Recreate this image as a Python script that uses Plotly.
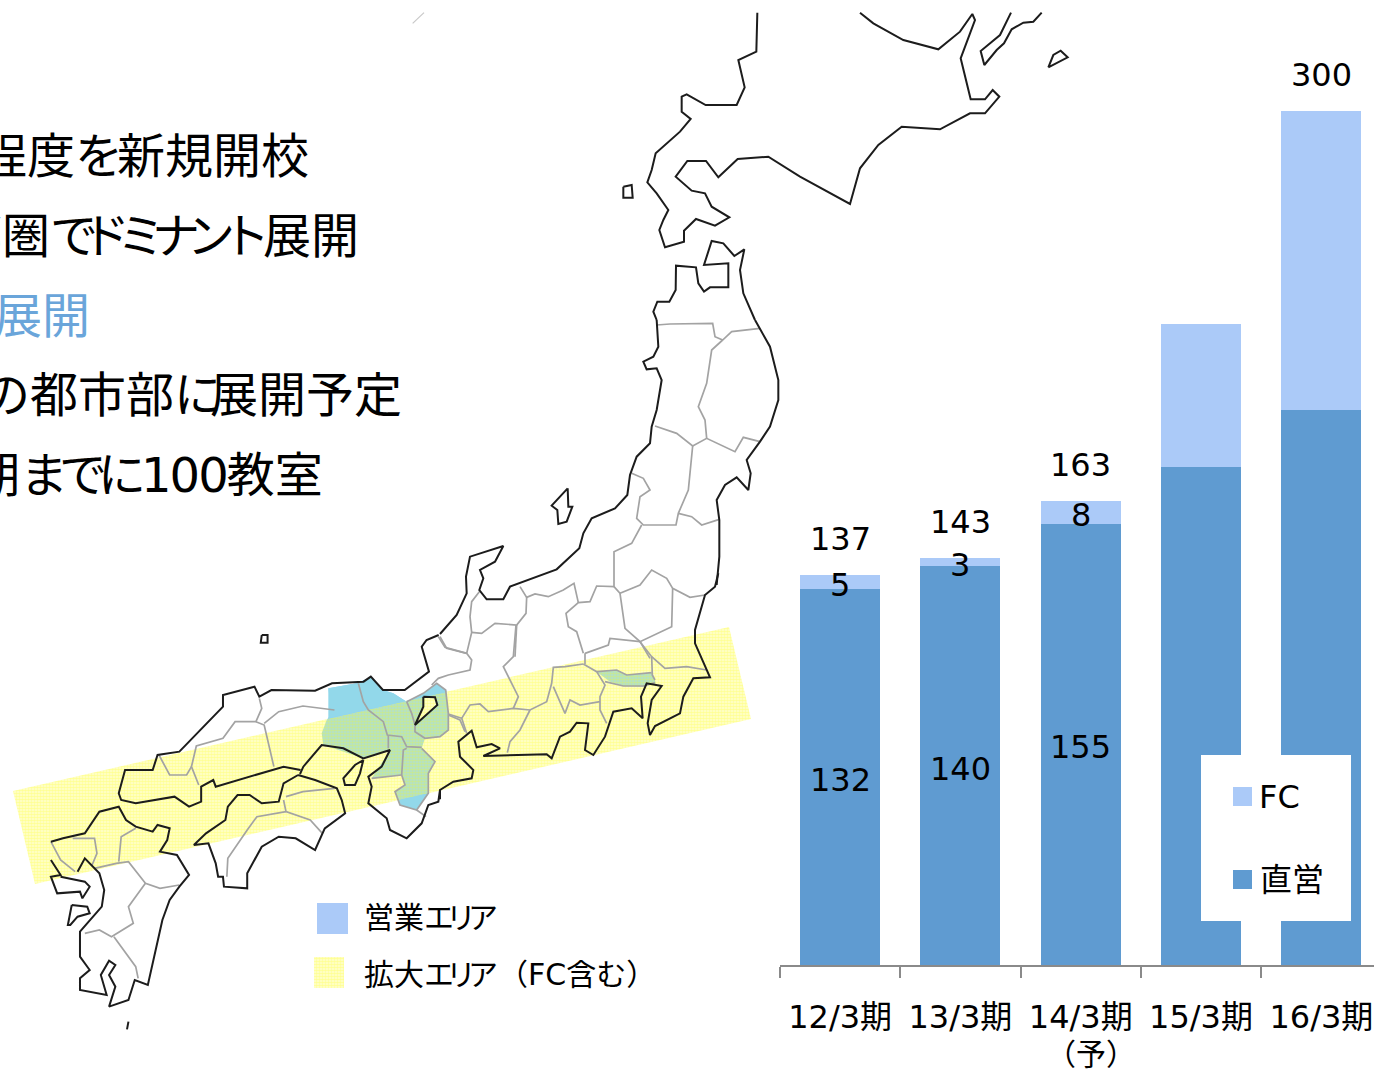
import plotly.graph_objects as go

# ---------- chart data ----------
periods = ["12/3期", "13/3期", "14/3期", "15/3期", "16/3期"]
direct = [132, 140, 155, 175, 195]
fc = [5, 3, 8, 50, 105]
direct_labels = ["132", "140", "155", None, None]
fc_labels = ["5", "3", "8", None, None]
total_labels = ["137", "143", "163", None, "300"]
BAR_DARK = "#5F9BD1"
BAR_LIGHT = "#ABCAF8"
FONT = "DejaVu Sans, Noto Sans CJK JP, sans-serif"
CJK = "Noto Sans CJK JP, sans-serif"
COAST = "#1c1c1c"
BORDER = "#a3a3a3"

# ---------- map outlines ----------
# each list carries its own crop origin/scale: (ox, oy, sx, sy)
Z1 = (0, 620, 2.063, 3)
Z2 = (400, 0, 3, 3)
Z3 = (440, 320, 3, 3)
Z6 = (640, 0, 3, 3)
Z7 = (420, 560, 3, 3)
Z8 = (300, 670, 3, 3)

def P(points, z):
    return [(z[0] + x / z[2], z[1] + y / z[3]) for x, y in points]

hokkaido = [(352,38),(349,155),(295,180),(305,225),(314,262),(290,315),(197,315),(140,283),(125,290),(125,335),(152,357),(120,395),(80,432),(47,460),(35,510),(22,547),(50,580),(85,630),(70,660),(58,690),(75,742),(132,725),(132,692),(168,657),(225,677),(268,652),(215,620),(195,580),(155,572),(107,530),(142,483),(198,483),(235,532),(293,477),(385,470),(480,530),(630,612),(660,505),(715,435),(785,380),(900,388),(990,340),(1035,340),(1078,290),(1058,270),(1035,298),(992,298),(962,175),(1005,60),(997,42),(960,95),(895,148),(790,120),(700,70),(660,38)]
kunashiri = [(1113,38),(1080,105),(1022,153),(1033,195),(1070,150),(1092,130),(1115,88),(1150,68),(1180,65),(1205,38)]
etorofu_tip = [(1225,202),(1240,165),(1262,152),(1283,172),(1225,202)]
okushiri = [(670,560),(695,555),(698,593),(670,593),(670,560)]
top_stub = [(72,38),(38,70)]
mutsu = [(770,960),(760,935),(772,905),(808,905),(827,870),(828,797),(888,802),(895,850),(912,875),(930,862),(985,862),(985,790),(912,795),(935,723),(970,730),(1003,768),(1033,748),(1020,810),(1030,880),(1060,950),(1065,960)]
tohoku_west = [(650,0),(655,80),(640,110),(610,125),(620,148),(650,145),(665,180),(650,270),(635,320),(630,370),(590,410),(570,465),(562,525),(525,565),(455,595),(430,640),(418,685),(350,748),(210,800),(190,838),(140,838),(118,810),(130,775),(120,750),(165,725),(190,678),(90,710),(78,770),(80,820),(50,885),(0,942)]
tohoku_east = [(945,0),(990,80),(1015,180),(1015,240),(990,320),(960,365),(920,420),(932,460),(925,510),(890,472),(855,495),(830,540),(838,600),(838,710),(830,795)]
kanto_coast = [(895,40),(885,80),(855,105),(825,210),(825,250),(860,330),(870,352),(820,355),(790,410),(780,460),(705,498),(690,525),(683,490),(695,420),(725,378),(680,370),(663,410),(668,475),(635,445),(580,455),(555,530),(520,585),(495,570),(505,490),(470,488),(450,515),(420,530),(395,595),(380,583),(190,588),(240,565),(215,552),(170,562),(155,512),(115,545),(120,590),(160,630),(155,655),(100,665),(60,690),(60,718)]
kii_coast = [(420,360),(415,395),(385,405),(365,460),(320,505),(270,480),(260,445),(205,400),(215,350),(205,320),(245,290),(270,240),(190,265),(130,235),(65,225),(10,290),(0,312)]
chugoku_coast = [(620,450),(585,440),(445,500),(440,480),(415,500),(415,545),(390,560),(360,530),(280,550),(250,540),(245,520),(258,450),(315,450),(325,405),(370,395),(460,260),(460,225),(525,200),(535,230),(560,210),(650,212),(685,190),(750,185),(765,170),(790,210),(835,210),(885,155),(870,80),(880,60),(905,45)]
awaji = [(190,270),(180,310),(165,345),(135,345),(130,325),(165,285),(190,270)]
biwa = [(370,80),(405,82),(412,105),(345,165),(370,110),(370,80)]
shikoku = [(615,465),(585,490),(575,545),(540,550),(515,525),(490,525),(470,560),(465,600),(425,640),(400,675),(430,670),(445,730),(450,770),(460,770),(462,800),(510,805),(510,760),(525,720),(540,680),(575,650),(610,655),(650,690),(670,625),(712,580),(705,540),(695,505),(650,480),(615,465)]
kyushu = [(105,665),(130,655),(175,640),(205,575),(245,560),(260,600),(280,620),(315,635),(325,615),(350,625),(345,660),(330,695),(365,705),(390,765),(370,800),(350,840),(335,900),(320,1000),(305,1095),(278,1080),(265,1140),(225,1160),(238,1100),(225,1065),(238,1035),(225,1022),(208,1065),(220,1125),(165,1110),(165,1075),(185,1050),(165,1010),(165,935),(210,860),(215,810),(205,760),(175,715),(160,755)]
nagasaki = [(105,720),(125,765),(105,770),(118,820),(165,815),(170,835),(185,800),(175,785),(125,770)]
amakusa = [(148,855),(180,860),(185,880),(160,890),(145,915),(140,915),(148,855)]
oki = [(540,45),(552,45),(552,68),(538,68),(540,45)]
tanega = [(265,1205),(262,1228)]
sado = [(383,505),(385,560),(397,560),(380,605),(355,612),(352,570),(335,557),(383,505)]

borders_z3 = [
    [(650,15),(690,12),(818,10),(825,50),(848,60),(875,35),(960,25)],
    [(848,60),(815,90),(800,190),(775,260),(795,300),(800,355)],
    [(645,318),(710,340),(758,378),(800,355),(885,395),(910,352),(960,365)],
    [(758,378),(752,450),(745,510),(715,580),(708,615),(610,615),(590,595),(600,530),(630,510),(610,475),(575,460)],
    [(715,580),(755,590),(785,615),(838,598)],
    [(605,615),(575,670),(522,695),(522,800),(470,798),(450,845),(415,848),(378,880),(385,920),(410,935),(430,1000)],
    [(522,800),(540,820),(600,795),(635,750),(680,775),(698,805),(750,832),(795,825)],
    [(540,820),(555,925),(600,965),(630,1015)],
    [(698,805),(695,920),(600,965),(510,955),(505,975),(435,1000)],
    [(240,800),(260,832),(285,822),(325,830),(370,810),(402,790),(415,848)],
    [(260,832),(258,880),(230,915),(165,910),(125,940),(95,937)],
    [(118,815),(95,845),(90,890),(95,937),(80,1000)],
    [(230,915),(225,1010)],
    [(0,950),(20,985),(80,1000)],
]
borders_z7 = [
    [(55,230),(75,262),(140,280),(155,300),(150,330),(85,345),(55,355),(35,375)],
    [(288,195),(280,290),(250,320),(295,410),(280,445)],
    [(490,312),(435,320),(400,322),(395,370),(380,425),(330,450),(280,445),(205,455),(180,432),(150,435),(125,475),(85,462)],
    [(330,450),(300,510),(270,545),(262,578)],
    [(490,312),(530,335),(555,375),(540,410),(540,450),(560,490)],
    [(400,380),(435,460),(450,420),(480,435),(540,425)],
    [(495,312),(495,280)],
    [(660,245),(680,270),(695,290),(735,325),(800,320),(860,330)],
    [(695,290),(697,345),(705,360)],
    [(530,335),(590,330),(620,345),(695,338)],
    [(555,365),(610,378),(670,378),(705,368)],
    [(125,475),(140,520)],
]
borders_z8 = [
    [(175,40),(190,95),(205,120),(250,155),(262,195),(305,200),(320,230),(365,232)],
    [(265,195),(265,235)],
    [(320,235),(310,240),(305,315)],
    [(320,95),(335,130),(345,165),(345,185),(375,205),(420,200),(445,180),(445,130),(437,60),(410,40),(370,70),(320,95)],
    [(445,135),(480,150),(495,185)],
    [(350,420),(378,440)],
    [(305,315),(215,325)],
    [(365,235),(405,275),(385,310),(385,370),(350,420),(300,405),(285,365),(315,345),(305,315)],
]
borders_z1 = [
    [(535,235),(540,265),(528,305),(485,305),(460,355),(405,378),(395,440),(410,495)],
    [(528,305),(545,315),(565,440)],
    [(328,405),(350,465),(385,465),(395,440)],
    [(690,270),(625,258),(575,275),(545,310)],
    [(585,540),(590,575),(640,600),(665,640)],
    [(590,530),(625,515),(690,505)],
    [(590,575),(530,590),(510,630),(470,715),(468,770)],
    [(105,665),(125,720),(155,755)],
    [(150,655),(195,655),(200,700),(190,735)],
    [(280,625),(250,650),(245,725)],
    [(195,745),(240,730),(265,725),(290,770),(300,790),(330,805),(370,795)],
    [(300,790),(265,860),(275,910),(230,950),(205,930),(175,940)],
    [(235,950),(280,1040),(285,1075)],
]
kansai_area = [(85,55),(170,40),(215,20),(248,60),(280,70),(320,95),(370,70),(410,40),(437,60),(445,130),(445,180),(420,200),(375,205),(365,235),(405,275),(385,310),(385,370),(350,420),(300,405),(285,365),(315,345),(305,315),(215,325),(270,240),(190,265),(70,225),(65,190),(80,150),(95,130),(85,55)]
kansai_north = [(85,55),(170,40),(215,20),(248,60),(280,70),(320,95),(370,70),(410,40),(437,60),(440,66),(85,145),(85,55)]
kansai_south = [(294,391),(380,371),(350,420),(300,405),(294,391)]
tokyo_area = [(530,335),(590,330),(620,345),(695,338),(708,370),(670,380),(610,378),(570,365),(530,335)]
band = [(13,791),(729,627),(751,719),(35,884),(13,791)]
legend_blue = [(317,903),(348,903),(348,934),(317,934),(317,903)]
legend_yellow = [(314,957),(344,957),(344,988),(314,988),(314,957)]

AREA_BLUE = "#92D8EA"
AREA_UNDER = "#8AD0FF"
PATTERN = dict(shape=".", size=3, solidity=0.62, fgcolor="rgba(255,255,0,0.62)",
               bgcolor="rgba(255,255,120,0.30)", fillmode="overlay")

fig = go.Figure()

# ---------- bars ----------
fig.add_bar(x=periods, y=direct, name="直営", marker_color=BAR_DARK, width=0.665,
            marker_line_width=0, xaxis="x", yaxis="y", hoverinfo="skip")
fig.add_bar(x=periods, y=fc, name="FC", marker_color=BAR_LIGHT, width=0.665,
            marker_line_width=0, xaxis="x", yaxis="y", hoverinfo="skip")

# ---------- map ----------
def poly(pts, **kw):
    fig.add_scatter(x=[p[0] for p in pts], y=[p[1] for p in pts], xaxis="x2", yaxis="y2",
                    mode="lines", hoverinfo="skip", showlegend=False, **kw)

def area(pts, color):
    poly(pts, fill="toself", fillcolor=color, line=dict(width=0))

def hatched(pts):
    poly(pts, fill="toself", fillpattern=PATTERN, fillcolor="rgba(0,0,0,0)", line=dict(width=0))

area(P(kansai_area, Z8), AREA_UNDER)
area(P(tokyo_area, Z7), AREA_UNDER)
area(P(biwa, Z8), "#FFFFFF")
hatched(band)
area(P(kansai_north, Z8), AREA_BLUE)
area(P(kansai_south, Z8), AREA_BLUE)

for group, z in ((borders_z3, Z3), (borders_z7, Z7), (borders_z8, Z8), (borders_z1, Z1)):
    for b in group:
        poly(P(b, z), line=dict(color=BORDER, width=1.7))

coast_parts = [
    P(hokkaido, Z6), P(kunashiri, Z6), P(etorofu_tip, Z6), P(okushiri, Z2),
    P(mutsu, Z2), P(tohoku_west, Z3), P(tohoku_east, Z3),
    P(kanto_coast, Z7), P(kii_coast, Z8), P(chugoku_coast, Z1),
    P(awaji, Z8), P(biwa, Z8), P(shikoku, Z1), P(kyushu, Z1), P(nagasaki, Z1),
    P(amakusa, Z1), P(oki, Z1), P(tanega, Z1), P(sado, Z3),
]
for part in coast_parts:
    poly(part, line=dict(color=COAST, width=2))
poly(P(top_stub, Z2), line=dict(color="#c8c8c8", width=1.2))

# map legend patches
area(legend_blue, BAR_LIGHT)
hatched(legend_yellow)

annotations = []
def note(x, y, text, size=30, color="black", anchor="left", family=CJK):
    annotations.append(dict(xref="paper", yref="paper", x=x / 1374, y=1 - y / 1070, text=text,
                            showarrow=False, xanchor=anchor, yanchor="middle", align=anchor,
                            font=dict(size=size, color=color, family=family)))

narrow = '<span style="letter-spacing:-{}px">{}</span>'
note(311, 152, "程度" + narrow.format(6, "を") + "新規開校", 48, anchor="right")
note(361, 232, "部圏" + narrow.format(16, "で") + narrow.format(13, "ドミナン") + narrow.format(7, "ト") + "展開", 48, anchor="right")
note(92, 312, "展開", 48, color="#6AA5DA", anchor="right")
note(404, 395, "の都市部" + narrow.format(12, "に") + "展開予定", 48, anchor="right", family=FONT)
note(325, 475, "期" + narrow.format(9, "まで") + narrow.format(5, "に") + narrow.format(2, "100") + "教室", 48, anchor="right", family=FONT)
note(362, 915, "営業" + narrow.format(8, "エリ") + narrow.format(4, "ア"), 30)
note(362, 974, "拡大" + narrow.format(8, "エリ") + "ア（" + "FC含む）", 30, family=FONT)

for i, p in enumerate(periods):
    base = direct[i]
    if direct_labels[i]:
        annotations.append(dict(xref="x", yref="y", x=p, y=base / 2, yshift=-3, text=direct_labels[i],
                                showarrow=False, font=dict(size=32, family=FONT, color="black")))
    if fc_labels[i]:
        annotations.append(dict(xref="x", yref="y", x=p, y=base + fc[i] / 2, yshift=-3, text=fc_labels[i],
                                showarrow=False, font=dict(size=32, family=FONT, color="black")))
    if total_labels[i]:
        annotations.append(dict(xref="x", yref="y", x=p, y=base + fc[i], yshift=36, text=total_labels[i],
                                showarrow=False, font=dict(size=32, family=FONT, color="black")))

note(1091, 1052, "（予）", 30, anchor="center")
note(1257, 797, "FC", 32, family=FONT)
note(1258, 877, "直営", 32)

def rect(x0, y0, x1, y1, color):
    return dict(type="rect", xref="paper", yref="paper", x0=x0 / 1374, x1=x1 / 1374,
                y0=1 - y0 / 1070, y1=1 - y1 / 1070, fillcolor=color, line_width=0, layer="above")

fig.update_layout(
    width=1374, height=1070, margin=dict(l=0, r=0, t=0, b=0),
    paper_bgcolor="white", plot_bgcolor="rgba(0,0,0,0)", barmode="stack", showlegend=False,
    font=dict(family=FONT, color="black"),
    xaxis=dict(domain=[780 / 1374, 1], range=[-0.5, 4.4377], type="category", tickson="boundaries",
               categoryorder="array", categoryarray=periods,
               ticks="outside", ticklen=11, tickwidth=2, tickcolor="#8a8a8a",
               showline=True, linecolor="#8a8a8a", linewidth=2, showgrid=False, zeroline=False,
               tickfont=dict(size=32, family=FONT, color="black"), ticklabelstandoff=23,
               tickangle=0, anchor="y"),
    yaxis=dict(domain=[(1070 - 965) / 1070, 1], range=[0, 965 / 2.848], visible=False, anchor="x"),
    xaxis2=dict(domain=[0, 1], range=[0, 1374], visible=False, anchor="y2"),
    yaxis2=dict(domain=[0, 1], range=[1070, 0], visible=False, anchor="x2"),
    annotations=annotations,
    shapes=[rect(1201, 755, 1351, 921, "white"), rect(1233, 787, 1252, 806, BAR_LIGHT),
            rect(1233, 870, 1252, 889, BAR_DARK)],
)
fig.write_html("out.html", config={"displayModeBar": False},
               post_script="document.body.style.margin='0';document.body.style.overflow='hidden';")
